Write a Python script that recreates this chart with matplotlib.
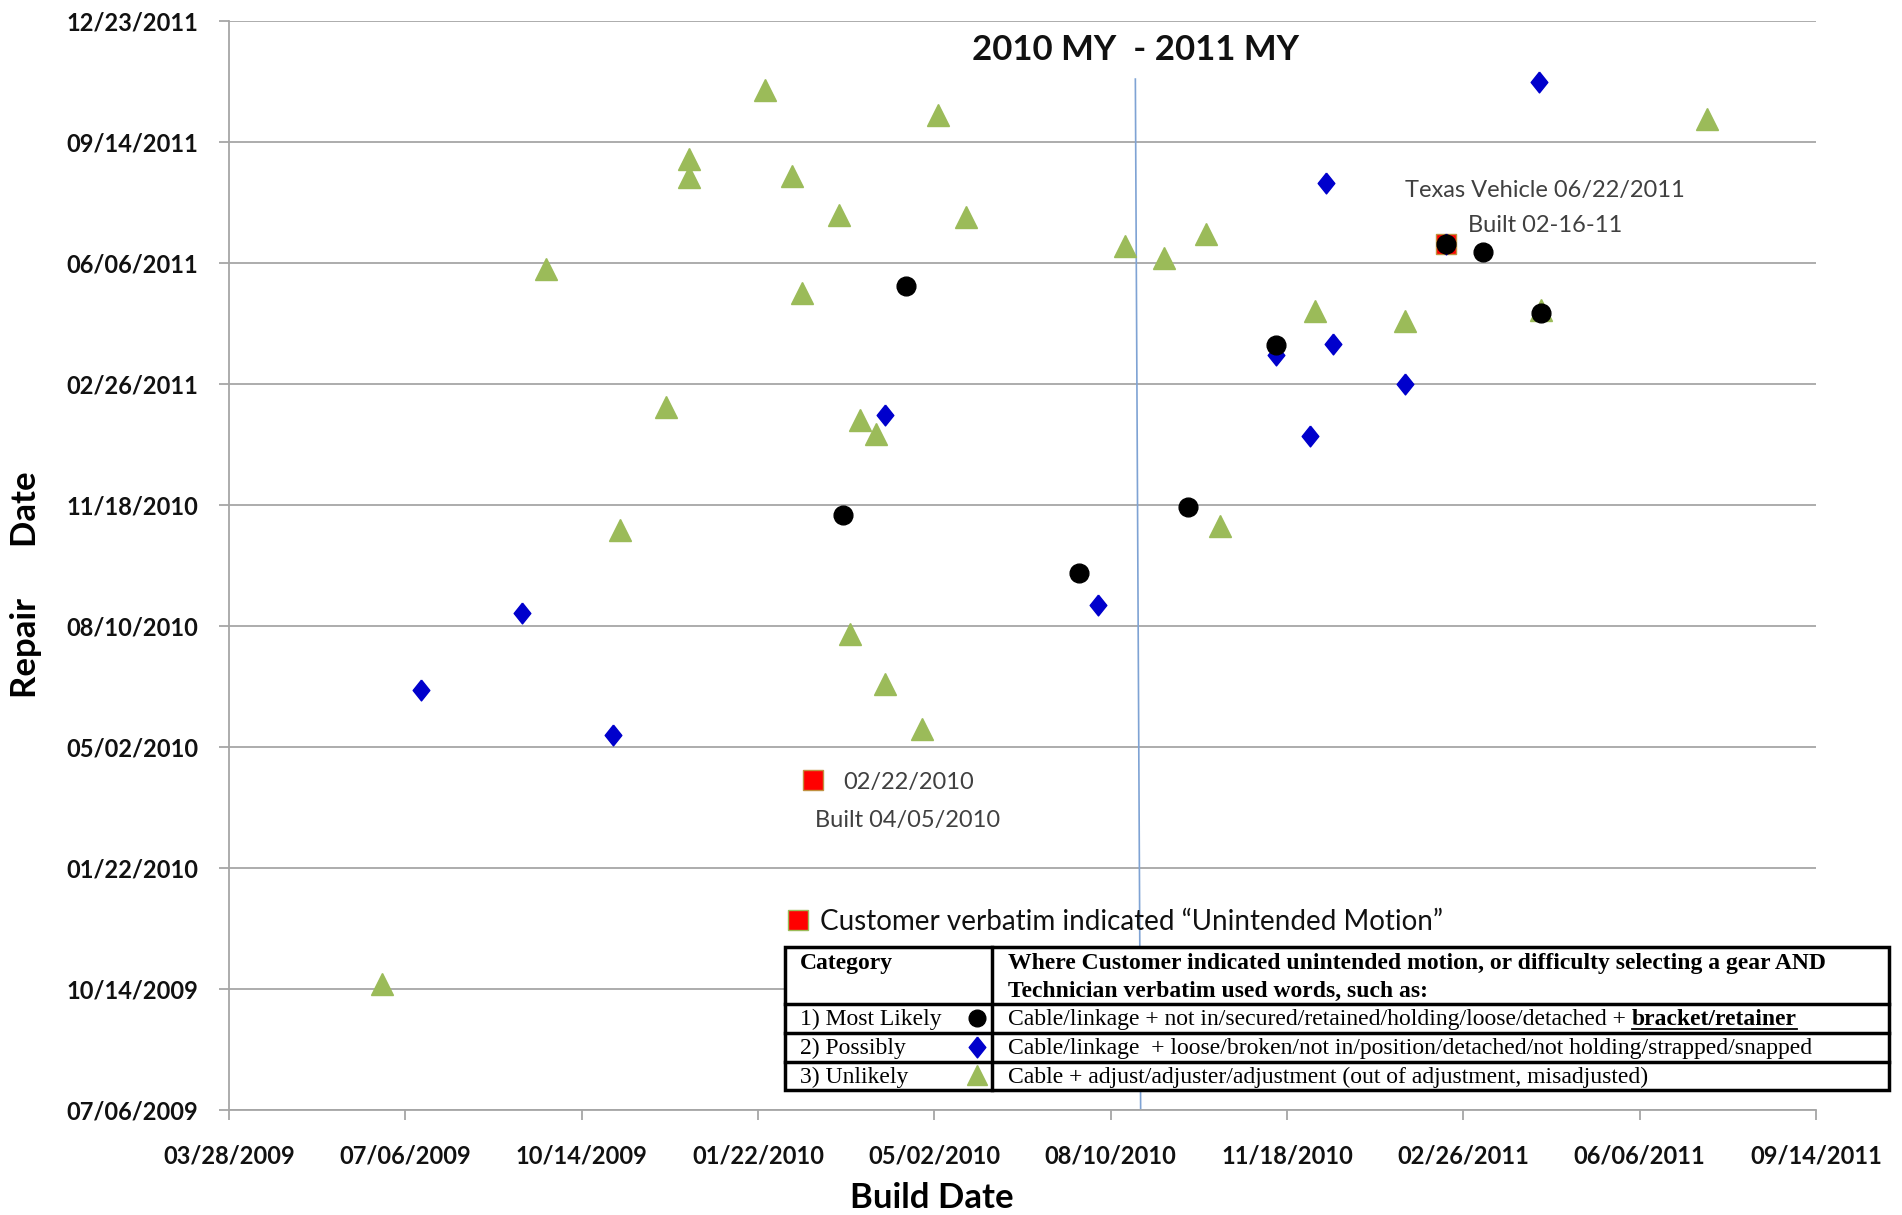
import numpy as np
import pandas as pd
import matplotlib.pyplot as plt
import matplotlib.dates as mdates

# Build date / repair date
unlikely_build = ['2009-06-23', '2009-09-24', '2009-11-05', '2009-12-01', '2009-12-14', '2009-12-14',
                  '2010-01-26', '2010-02-10', '2010-02-16', '2010-03-09', '2010-03-15', '2010-03-21',
                  '2010-03-30', '2010-04-04', '2010-04-25', '2010-05-04', '2010-05-20', '2010-08-18',
                  '2010-09-09', '2010-10-03', '2010-10-11', '2010-12-04', '2011-01-24', '2011-07-14',
                  '2011-04-11']
unlikely_repair = ['2009-10-18', '2011-06-01', '2010-10-28', '2011-02-07', '2011-08-31', '2011-08-16',
                   '2011-10-27', '2011-08-17', '2011-05-12', '2011-07-16', '2010-08-03', '2011-01-27',
                   '2011-01-16', '2010-06-23', '2010-05-17', '2011-10-06', '2011-07-14', '2011-06-20',
                   '2011-06-10', '2011-06-30', '2010-11-01', '2011-04-27', '2011-04-19', '2011-10-03',
                   '2011-04-28']

possibly_build = ['2009-07-15', '2009-09-10', '2009-11-01', '2010-04-04', '2010-08-03', '2010-11-12',
                  '2010-12-01', '2010-12-10', '2010-12-14', '2011-01-24', '2011-04-10', '2011-02-16']
possibly_repair = ['2010-06-18', '2010-08-21', '2010-05-12', '2011-01-31', '2010-08-27', '2011-03-22',
                   '2011-01-14', '2011-08-11', '2011-03-31', '2011-02-26', '2011-11-03', '2011-06-22']

likely_build = ['2010-04-16', '2010-03-11', '2010-07-23', '2010-09-23', '2010-11-12', '2011-02-16',
                '2011-03-09', '2011-04-11']
likely_repair = ['2011-05-18', '2010-11-10', '2010-09-23', '2010-11-16', '2011-03-30', '2011-06-22',
                 '2011-06-15', '2011-04-26']

motion_build = ['2010-02-22', '2011-02-16']
motion_repair = ['2010-04-05', '2011-06-22']

my_split_x = ['2010-08-24', '2010-08-27']
my_split_y = ['2011-11-05', '2009-07-06']

x_ticks = pd.date_range('2009-03-28', periods=10, freq='100D')
y_ticks = pd.date_range('2009-07-06', periods=10, freq='100D')

categories = ['1) Most Likely', '2) Possibly', '3) Unlikely']
cat_text = ['Cable/linkage + not in/secured/retained/holding/loose/detached + ',
            'Cable/linkage  + loose/broken/not in/position/detached/not holding/strapped/snapped',
            'Cable + adjust/adjuster/adjustment (out of adjustment, misadjusted)']

green = '#9BBB59'
blue = '#0000CC'
sans = ['Lato', 'DejaVu Sans']
serif = ['Liberation Serif', 'DejaVu Serif']
diamond = [(0, 1), (0.8, 0), (0, -1), (-0.8, 0), (0, 1)]

fig = plt.figure(figsize=(19.02, 12.15), dpi=100)
ax = fig.add_axes([229 / 1902, 1 - 1110 / 1215, (1816 - 229) / 1902, (1110 - 21) / 1215])

ax.plot(pd.to_datetime(my_split_x), pd.to_datetime(my_split_y), color='#7FA3D4', lw=1.2, zorder=2)

ax.plot(pd.to_datetime(unlikely_build), pd.to_datetime(unlikely_repair), '^', ms=15.5,
        color=green, mec=green, ls='none', zorder=3)
ax.plot(pd.to_datetime(motion_build), pd.to_datetime(motion_repair), 's', ms=15,
        color='#FF0000', mec='#C09040', mew=1, ls='none', zorder=4)
ax.plot(pd.to_datetime(possibly_build), pd.to_datetime(possibly_repair), marker=diamond, ms=15,
        color=blue, mec=blue, ls='none', zorder=5)
ax.plot(pd.to_datetime(likely_build), pd.to_datetime(likely_repair), 'o', ms=13.5,
        color='black', ls='none', zorder=6)

ax.set_xlim(x_ticks[0], x_ticks[-1])
ax.set_ylim(y_ticks[0], y_ticks[-1])
ax.set_xticks(x_ticks)
ax.set_yticks(y_ticks)
ax.xaxis.set_major_formatter(mdates.DateFormatter('%m/%d/%Y'))
ax.yaxis.set_major_formatter(mdates.DateFormatter('%m/%d/%Y'))
ax.grid(axis='y', color='#A6A6A6', lw=1.3)
ax.set_axisbelow(True)
for s in ['top', 'right']:
    ax.spines[s].set_visible(False)
for s in ['left', 'bottom']:
    ax.spines[s].set_color('#A6A6A6')
    ax.spines[s].set_linewidth(1.3)
ax.tick_params(axis='both', length=7, width=1.3, color='#A6A6A6', labelsize=17, labelcolor='#111111')
ax.tick_params(axis='y', pad=15)
ax.tick_params(axis='x', pad=18)
for lab in ax.get_xticklabels() + ax.get_yticklabels():
    lab.set_family(sans)
    lab.set_fontweight('bold')

ax.set_xlabel('Build Date', family=sans, fontweight='bold', fontsize=25)
ax.xaxis.set_label_coords((932 - 229) / 1587, -(1198 - 1110) / 1089)
ax.xaxis.label.set_va('center')
ax.set_ylabel('Repair      Date', family=sans, fontweight='bold', fontsize=25)
ax.yaxis.set_label_coords(-(229 - 42) / 1587, 0.482)

fig.text(1135 / 1902, 1 - 50 / 1215, '2010 MY  - 2011 MY', family=sans, fontweight='bold',
         fontsize=25, ha='center', va='center', color='#111111')

ann = '#404040'
fig.text(1545 / 1902, 1 - 191 / 1215, 'Texas Vehicle 06/22/2011', family=sans, fontsize=17,
         ha='center', va='center', color=ann)
fig.text(1545 / 1902, 1 - 226 / 1215, 'Built 02-16-11', family=sans, fontsize=17,
         ha='center', va='center', color=ann)
fig.text(843 / 1902, 1 - 783 / 1215, '02/22/2010', family=sans, fontsize=17,
         ha='left', va='center', color=ann)
fig.text(815 / 1902, 1 - 820 / 1215, 'Built 04/05/2010', family=sans, fontsize=17,
         ha='left', va='center', color=ann)

# legend box + table overlay, in full-size pixel units
tx = fig.add_axes([0, 0, 1, 1], facecolor='none')
tx.set_xlim(0, 1902)
tx.set_ylim(1215, 0)
tx.axis('off')

tx.plot([798], [920], 's', ms=15, color='#FF0000', mec='#9BBB59', mew=1)
tx.text(820, 922, 'Customer verbatim indicated \u201cUnintended Motion\u201d', family=sans,
        fontsize=20, va='center', ha='left', color='#111111')

x0, x1, xc = 785, 1889, 992
rows = [947, 1004, 1033, 1062, 1090]
tx.add_patch(plt.Rectangle((x0, rows[0]), x1 - x0, rows[-1] - rows[0], facecolor='white',
                           edgecolor='black', lw=2.5, zorder=3))
for r in rows[1:-1]:
    tx.plot([x0, x1], [r, r], color='black', lw=2.5, zorder=4)
tx.plot([xc, xc], [rows[0], rows[-1]], color='black', lw=2.5, zorder=4)

tfs = 17
tx.text(800, 963, 'Category', family=serif, fontweight='bold', fontsize=tfs, va='center', zorder=5)
tx.text(1008, 963, 'Where Customer indicated unintended motion, or difficulty selecting a gear AND',
        family=serif, fontweight='bold', fontsize=tfs, va='center', zorder=5)
tx.text(1008, 991, 'Technician verbatim used words, such as:', family=serif, fontweight='bold',
        fontsize=tfs, va='center', zorder=5)

markers = [('o', 'black', 12), (diamond, blue, 15), ('^', green, 15)]
cat_texts = []
for i, (cat, txt) in enumerate(zip(categories, cat_text)):
    yc = (rows[i + 1] + rows[i + 2]) / 2 + 1
    tx.text(800, yc, cat, family=serif, fontsize=tfs, va='center', zorder=5)
    m, c, s = markers[i]
    tx.plot([977], [yc - 2], marker=m, ms=s, color=c, mec=c, ls='none', zorder=6)
    cat_texts.append(tx.text(1008, yc, txt, family=serif, fontsize=tfs, va='center', zorder=5))

# bold + underlined tail of first row
fig.canvas.draw()
renderer = fig.canvas.get_renderer()
bb = cat_texts[0].get_window_extent(renderer)
inv = tx.transData.inverted()
xe = inv.transform((bb.x1, bb.y0))[0]
yc = (rows[1] + rows[2]) / 2 + 1
bt = tx.text(xe, yc, 'bracket/retainer', family=serif, fontweight='bold', fontsize=tfs,
             va='center', zorder=5)
fig.canvas.draw()
bb2 = bt.get_window_extent(renderer)
p0 = inv.transform((bb2.x0, bb2.y0))
p1 = inv.transform((bb2.x1, bb2.y0))
tx.plot([p0[0], p1[0]], [yc + 9, yc + 9], color='black', lw=1.3, zorder=6)

fig.savefig('out.png', dpi=100)
